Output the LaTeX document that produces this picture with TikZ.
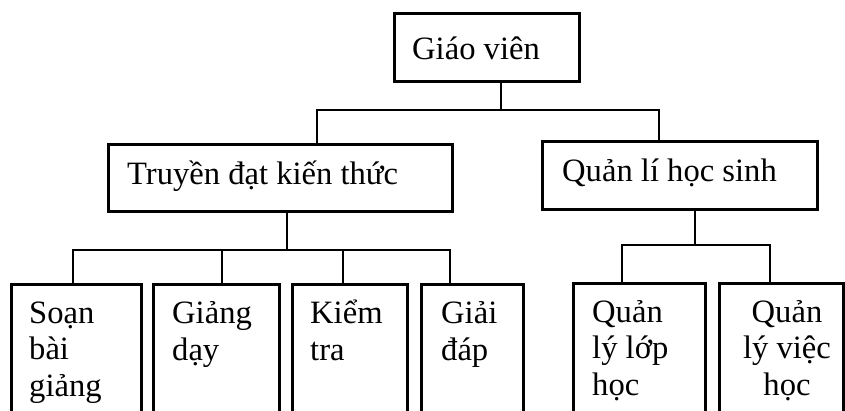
\documentclass[tikz,border=0pt]{standalone}
\usepackage{fontspec}
\setmainfont{Liberation Serif}
\begin{document}
\begin{tikzpicture}[x=1pt,y=-1pt,
  box/.style={draw, line width=2.8pt, inner sep=0pt, anchor=north west},
  link/.style={line width=2.1pt},
  lbl/.style={inner sep=0pt, anchor=base west, align=left,
    font=\fontsize{32.6pt}{36.3pt}\selectfont},
  clbl/.style={lbl, anchor=base, align=center}]
\useasboundingbox (0,0) rectangle (845,410);
\clip (0,0) rectangle (845,410);

% boxes
\node[box, minimum width=185pt, minimum height=68pt] (g) at (393,12) {};
\node[box, minimum width=344pt, minimum height=67pt] (t) at (107,143) {};
\node[box, minimum width=275pt, minimum height=68pt] (q) at (541,140) {};
\node[box, minimum width=130pt, minimum height=150pt] (s1) at (10,283) {};
\node[box, minimum width=126pt, minimum height=150pt] (s2) at (152,283) {};
\node[box, minimum width=115pt, minimum height=150pt] (s3) at (291,283) {};
\node[box, minimum width=102pt, minimum height=150pt] (s4) at (420,283) {};
\node[box, minimum width=132pt, minimum height=150pt] (r1) at (572,282) {};
\node[box, minimum width=124pt, minimum height=150pt] (r2) at (718,282) {};

% labels (multi-line labels sit on the baseline of their last line)
\node[lbl] (lg) at (412,59) {Giáo viên};
\node[lbl] (lt) at (127,184) {Truyền đạt kiến thức};
\node[lbl] (lq) at (562,181) {Quản lí học sinh};
\node[lbl] (ls1) at (29,396) {Soạn\\bài\\giảng};
\node[lbl] (ls2) at (172,360) {Giảng\\dạy};
\node[lbl] (ls3) at (310,360) {Kiểm\\tra};
\node[lbl] (ls4) at (441,360) {Giải\\đáp};
\node[lbl] (lr1) at (592,395) {Quản\\lý lớp\\học};
\node[clbl] (lr2) at (787,395) {Quản\\lý việc\\học};

% joints of the connector bars
\coordinate (gx) at (501,110);
\coordinate (bl) at (317,110);
\coordinate (br) at (659,110);
\coordinate (tx) at (287,250);
\coordinate (c1) at (73,250);
\coordinate (c2) at (222,250);
\coordinate (c3) at (343,250);
\coordinate (c4) at (450,250);
\coordinate (qx) at (695,245);
\coordinate (d1) at (622,245);
\coordinate (d2) at (770,245);

% connectors
\draw[link] (g.south -| gx) -- (gx);
\draw[link] (t.north -| bl) -- (bl) -- (br) -- (q.north -| br);
\draw[link] (t.south -| tx) -- (tx);
\draw[link] (s1.north -| c1) -- (c1) -- (c4) -- (s4.north -| c4);
\draw[link] (s2.north -| c2) -- (c2);
\draw[link] (s3.north -| c3) -- (c3);
\draw[link] (q.south -| qx) -- (qx);
\draw[link] (r1.north -| d1) -- (d1) -- (d2) -- (r2.north -| d2);
\end{tikzpicture}
\end{document}
